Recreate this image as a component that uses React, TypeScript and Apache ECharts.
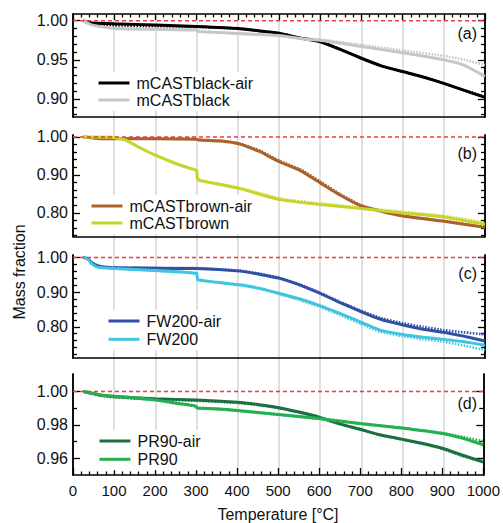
import React, { useEffect, useRef } from "react";
import * as echarts from "echarts";

const FONT = "'Liberation Sans', Arial, Helvetica, sans-serif";

// ---------- data (temperature °C, mass fraction) ----------
// panel (a)
const BLACK_AIR_T = [25, 35, 50, 100, 200, 300, 400, 450, 500, 550, 600, 650, 700, 750, 800, 850, 900, 950, 1000];
const BLACK_AIR = [1.0, 0.998, 0.997, 0.996, 0.9945, 0.9925, 0.99, 0.987, 0.984, 0.978, 0.973, 0.963, 0.952, 0.942, 0.935, 0.928, 0.92, 0.911, 0.902];
const BLACK_AIR_REP = [1.0, 0.997, 0.995, 0.994, 0.993, 0.992, 0.99, 0.987, 0.984, 0.978, 0.973, 0.963, 0.952, 0.942, 0.935, 0.928, 0.92, 0.911, 0.903];
const BLACK_T = [25, 35, 50, 100, 200, 300, 305, 400, 500, 570, 600, 700, 800, 900, 950, 1000];
const BLACK = [1.0, 0.997, 0.994, 0.99, 0.989, 0.988, 0.986, 0.9835, 0.981, 0.976, 0.975, 0.967, 0.959, 0.95, 0.943, 0.929];
const BLACK_REP = [1.0, 0.997, 0.994, 0.991, 0.99, 0.989, 0.987, 0.984, 0.981, 0.977, 0.976, 0.969, 0.962, 0.955, 0.95, 0.9435];

// panel (b)
const BROWN_AIR_T = [25, 60, 100, 200, 300, 305, 360, 405, 454, 470, 502, 551, 600, 648, 696, 745, 801, 900, 1000];
const BROWN_AIR = [1.0, 0.996, 0.995, 0.995, 0.994, 0.992, 0.989, 0.981, 0.961, 0.952, 0.934, 0.912, 0.879, 0.847, 0.82, 0.805, 0.792, 0.778, 0.762];
const BROWN_AIR_REP = [1.0, 0.997, 0.996, 0.996, 0.995, 0.993, 0.99, 0.983, 0.964, 0.955, 0.937, 0.915, 0.883, 0.85, 0.822, 0.806, 0.793, 0.779, 0.763];
const BROWN_T = [25, 90, 126, 158, 200, 250, 292, 300, 303, 350, 405, 502, 600, 700, 800, 900, 1000];
const BROWN = [1.0, 0.999, 0.993, 0.974, 0.952, 0.93, 0.915, 0.912, 0.887, 0.876, 0.864, 0.835, 0.822, 0.8115, 0.8, 0.7895, 0.77];
const BROWN_REP = [1.0, 0.999, 0.992, 0.973, 0.951, 0.929, 0.914, 0.911, 0.889, 0.878, 0.866, 0.838, 0.825, 0.814, 0.803, 0.792, 0.774];

// panel (c)
const FW_AIR_T = [25, 35, 45, 62, 86, 150, 300, 405, 454, 502, 551, 600, 648, 700, 745, 801, 850, 900, 948, 1000];
const FW_AIR = [1.0, 0.997, 0.985, 0.975, 0.971, 0.9695, 0.968, 0.9605, 0.951, 0.9395, 0.92, 0.896, 0.87, 0.843, 0.822, 0.805, 0.793, 0.784, 0.773, 0.759];
const FW_AIR_REP = [1.0, 0.997, 0.986, 0.976, 0.972, 0.97, 0.969, 0.962, 0.953, 0.941, 0.922, 0.898, 0.872, 0.846, 0.826, 0.81, 0.8, 0.7905, 0.784, 0.778];
const FW_T = [25, 35, 45, 60, 100, 200, 300, 303, 405, 454, 502, 551, 600, 648, 700, 745, 801, 850, 900, 948, 1000];
const FW = [1.0, 0.996, 0.982, 0.972, 0.968, 0.962, 0.954, 0.936, 0.921, 0.9107, 0.896, 0.88, 0.8605, 0.8386, 0.8127, 0.7905, 0.778, 0.77, 0.7637, 0.757, 0.747];
const FW_REP = [1.0, 0.996, 0.982, 0.972, 0.968, 0.962, 0.954, 0.935, 0.92, 0.909, 0.894, 0.877, 0.857, 0.834, 0.808, 0.786, 0.773, 0.764, 0.757, 0.746, 0.733];

// panel (d)
const PR_AIR_T = [25, 65, 100, 200, 300, 400, 454, 502, 551, 600, 648, 700, 745, 801, 850, 900, 948, 1000];
const PR_AIR = [1.0, 0.998, 0.997, 0.9957, 0.9949, 0.9936, 0.9921, 0.9903, 0.9877, 0.9847, 0.9808, 0.9774, 0.9743, 0.9715, 0.969, 0.966, 0.962, 0.9577];
const PR_AIR_REP = [1.0, 0.9975, 0.9965, 0.9952, 0.9945, 0.9932, 0.9918, 0.99, 0.9874, 0.9844, 0.9806, 0.9772, 0.9741, 0.9713, 0.9688, 0.9657, 0.9615, 0.9582];
const PR_T = [25, 65, 102, 200, 252, 292, 300, 303, 349, 401, 502, 600, 700, 800, 900, 950, 1000];
const PR = [1.0, 0.998, 0.9972, 0.995, 0.993, 0.9917, 0.991, 0.9901, 0.9897, 0.9887, 0.9862, 0.9838, 0.9808, 0.9782, 0.9749, 0.972, 0.968];
const PR_REP = [1.0, 0.998, 0.997, 0.9948, 0.9928, 0.9915, 0.9908, 0.9899, 0.9894, 0.9884, 0.986, 0.9836, 0.9807, 0.9783, 0.9752, 0.9728, 0.9703];

// reference line
const REF_X = [0, 1000];
const REF_Y = [1.0, 1.0];

// axis ticks
const X_MIN = 0;
const X_MAX = 1000;
const A_MAJOR = [0.9, 0.95, 1.0];
const A_MINOR = [0.88, 0.89, 0.91, 0.92, 0.93, 0.94, 0.96, 0.97, 0.98, 0.99];
const BC_MAJOR = [0.8, 0.9, 1.0];
const B_MINOR = [0.74, 0.76, 0.78, 0.82, 0.84, 0.86, 0.88, 0.92, 0.94, 0.96, 0.98];
const C_MINOR = [0.72, 0.74, 0.76, 0.78, 0.82, 0.84, 0.86, 0.88, 0.92, 0.94, 0.96, 0.98];
const D_MAJOR = [0.96, 0.98, 1.0];
const D_MINOR = [0.97, 0.99];

const zip = (xs: number[], ys: number[]) => xs.map((x, i) => [x, ys[i]]);

const PANELS = [
  {
    top: 14, height: 103, min: 0.877, max: 1.0085, major: A_MAJOR, minor: A_MINOR, label: "(a)", labelY: 33,
    legend: { left: 92, top: 72, gap: 1 },
    series: [
      { name: "mCASTblack-air", color: "#000000", t: BLACK_AIR_T, v: BLACK_AIR, rep: BLACK_AIR_REP },
      { name: "mCASTblack", color: "#c6c6c6", t: BLACK_T, v: BLACK, rep: BLACK_REP },
    ],
  },
  {
    top: 135, height: 101.5, min: 0.738, max: 1.005, major: BC_MAJOR, minor: B_MINOR, label: "(b)", labelY: 153,
    legend: { left: 85, top: 195, gap: 1 },
    series: [
      { name: "mCASTbrown-air", color: "#a8622a", t: BROWN_AIR_T, v: BROWN_AIR, rep: BROWN_AIR_REP },
      { name: "mCASTbrown", color: "#c6d42c", t: BROWN_T, v: BROWN, rep: BROWN_REP },
    ],
  },
  {
    top: 255, height: 103, min: 0.71, max: 1.007, major: BC_MAJOR, minor: C_MINOR, label: "(c)", labelY: 273,
    legend: { left: 102, top: 310, gap: 2.3 },
    series: [
      { name: "FW200-air", color: "#3050a8", t: FW_AIR_T, v: FW_AIR, rep: FW_AIR_REP },
      { name: "FW200", color: "#40c4e0", t: FW_T, v: FW, rep: FW_REP },
    ],
  },
  {
    top: 374, height: 101, min: 0.95, max: 1.0105, major: D_MAJOR, minor: D_MINOR, label: "(d)", labelY: 403,
    legend: { left: 93, top: 430, gap: 2.3 },
    series: [
      { name: "PR90-air", color: "#1a7040", t: PR_AIR_T, v: PR_AIR, rep: PR_AIR_REP },
      { name: "PR90", color: "#22b050", t: PR_T, v: PR, rep: PR_REP },
    ],
  },
];

const PLOT_LEFT = 73;
const PLOT_RIGHT = 18;
const AXIS_LINE = { show: true, lineStyle: { color: "#000", width: 1.5 } };
const TICK_LINE = { color: "#000", width: 1.3 };

function buildOption() {
  const grid: any[] = PANELS.map((p) => ({ left: PLOT_LEFT, right: PLOT_RIGHT, top: p.top, height: p.height }));
  grid.push({ left: PLOT_LEFT, right: PLOT_RIGHT, top: 14, height: 461 });

  const xAxis: any[] = [];
  const bottomIdx: number[] = [];
  PANELS.forEach((p, gi) => {
    const last = gi === PANELS.length - 1;
    bottomIdx.push(xAxis.length);
    xAxis.push({
      gridIndex: gi, type: "value", position: "bottom", min: X_MIN, max: X_MAX, interval: 100,
      axisLine: AXIS_LINE,
      axisTick: { show: last, inside: true, length: 7, lineStyle: TICK_LINE },
      minorTick: { show: last, splitNumber: 5, length: 3.5, lineStyle: TICK_LINE },
      axisLabel: {
        show: last, fontSize: 15, color: "#111", fontFamily: FONT, margin: 8,
        formatter: (v: number) => String(Math.round(v)),
      },
      splitLine: { show: false },
    });
    if (gi === 0) {
      xAxis.push({
        gridIndex: 0, type: "value", position: "top", min: X_MIN, max: X_MAX, interval: 100,
        axisLine: AXIS_LINE,
        axisTick: { show: true, inside: true, length: 6, lineStyle: TICK_LINE },
        minorTick: { show: true, splitNumber: 5, length: 3.5, lineStyle: TICK_LINE },
        axisLabel: { show: false },
        splitLine: { show: false },
      });
    }
  });
  xAxis.push({
    gridIndex: 4, type: "value", min: X_MIN, max: X_MAX, interval: 100,
    axisLine: { show: false }, axisTick: { show: false }, axisLabel: { show: false },
    splitLine: { show: true, showMinLine: false, showMaxLine: false, lineStyle: { color: "#d8d8d8", width: 1.6 } },
  });

  const yAxis: any[] = [];
  const yIdx: number[] = [];
  PANELS.forEach((p, gi) => {
    const common = {
      gridIndex: gi, type: "value", min: p.min, max: p.max,
      splitLine: { show: false }, axisLine: AXIS_LINE,
    };
    yIdx.push(yAxis.length);
    yAxis.push({
      ...common, position: "left",
      axisTick: { show: true, inside: true, length: 7, customValues: p.major, lineStyle: TICK_LINE },
      axisLabel: {
        show: true, customValues: p.major, formatter: (v: number) => v.toFixed(2),
        fontSize: 16, color: "#111", fontFamily: FONT, margin: 5,
      },
    });
    yAxis.push({
      ...common, position: "left",
      axisTick: { show: true, inside: true, length: 4, customValues: p.minor, lineStyle: TICK_LINE },
      axisLabel: { show: false },
    });
    yAxis.push({
      ...common, position: "right",
      axisTick: { show: true, inside: true, length: 7, customValues: p.major, lineStyle: TICK_LINE },
      axisLabel: { show: false },
    });
    yAxis.push({
      ...common, position: "right",
      axisTick: { show: true, inside: true, length: 4, customValues: p.minor, lineStyle: TICK_LINE },
      axisLabel: { show: false },
    });
  });
  yAxis.push({ gridIndex: 4, type: "value", show: false });

  const series: any[] = [];
  const legend: any[] = [];
  PANELS.forEach((p, gi) => {
    p.series.forEach((s) => {
      series.push({
        name: s.name + " (replicate)", type: "line", xAxisIndex: bottomIdx[gi], yAxisIndex: yIdx[gi],
        data: zip(s.t, s.rep), symbol: "none", smooth: 0.15, silent: true, z: 2,
        lineStyle: { color: s.color, width: 2.6, type: [1.5, 1.5] }, itemStyle: { color: s.color },
      });
    });
    p.series.forEach((s) => {
      series.push({
        name: s.name, type: "line", xAxisIndex: bottomIdx[gi], yAxisIndex: yIdx[gi],
        data: zip(s.t, s.v), symbol: "none", smooth: 0.15, z: 3,
        lineStyle: { color: s.color, width: 3 }, itemStyle: { color: s.color },
      });
    });
    series.push({
      name: "ref" + gi, type: "line", xAxisIndex: bottomIdx[gi], yAxisIndex: yIdx[gi],
      data: zip(REF_X, REF_Y), symbol: "none", silent: true, z: 4,
      lineStyle: { color: "#ee3b3b", width: 1.5, type: [4, 3] },
    });
    legend.push({
      data: p.series.map((s) => s.name), orient: "vertical", left: p.legend.left, top: p.legend.top,
      itemWidth: 31, itemHeight: 14, itemGap: p.legend.gap, padding: [3, 5, 3, 5],
      backgroundColor: "#ffffff", selectedMode: false,
      itemStyle: { opacity: 0 },
      lineStyle: { width: 3 },
      textStyle: { fontSize: 16, color: "#111", fontFamily: FONT, padding: [0, 0, 0, 2] },
    });
  });

  const graphic: any[] = PANELS.map((p) => ({
    type: "text", x: 477, y: p.labelY, z: 10,
    style: { text: p.label, fill: "#111", font: `16px ${FONT}`, textAlign: "right", textVerticalAlign: "middle" },
  }));
  graphic.push({
    type: "text", x: 19, y: 272, rotation: Math.PI / 2, z: 10,
    style: { text: "Mass fraction", fill: "#111", font: `16px ${FONT}`, textAlign: "center", textVerticalAlign: "middle" },
  });
  graphic.push({
    type: "text", x: 278, y: 514, z: 10,
    style: { text: "Temperature [°C]", fill: "#111", font: `16px ${FONT}`, textAlign: "center", textVerticalAlign: "middle" },
  });

  return {
    animation: false,
    backgroundColor: "#ffffff",
    grid, xAxis, yAxis, series, legend, graphic,
  };
}

export default function App() {
  const ref = useRef<HTMLDivElement>(null);
  useEffect(() => {
    if (!ref.current) return;
    const chart = echarts.init(ref.current, null, { renderer: "svg" });
    chart.setOption(buildOption() as any);
    return () => chart.dispose();
  }, []);
  return (
    <div
      ref={ref}
      style={{ position: "fixed", left: 0, top: 0, width: 503, height: 523 }}
    />
  );
}
